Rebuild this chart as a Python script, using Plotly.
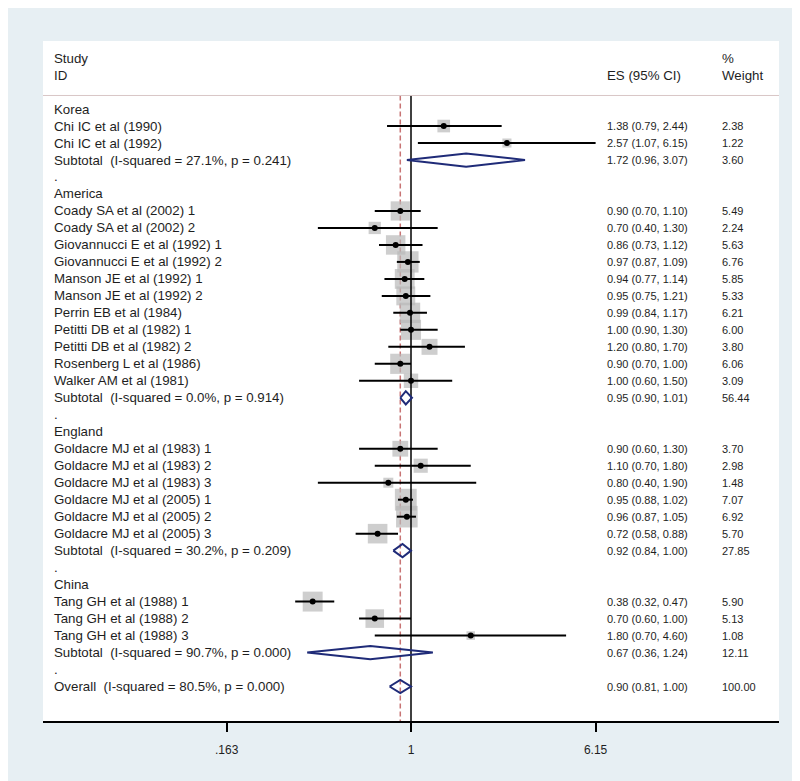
import math
import plotly.graph_objects as go

# ---------------- data ----------------
group_names = ["Korea", "America", "England", "China"]

study_labels = [
    "Chi IC et al (1990)", "Chi IC et al (1992)",
    "Coady SA et al (2002) 1", "Coady SA et al (2002) 2",
    "Giovannucci E et al (1992) 1", "Giovannucci E et al (1992) 2",
    "Manson JE et al (1992) 1", "Manson JE et al (1992) 2",
    "Perrin EB et al (1984)", "Petitti DB et al (1982) 1",
    "Petitti DB et al (1982) 2", "Rosenberg L et al (1986)",
    "Walker AM et al (1981)",
    "Goldacre MJ et al (1983) 1", "Goldacre MJ et al (1983) 2",
    "Goldacre MJ et al (1983) 3", "Goldacre MJ et al (2005) 1",
    "Goldacre MJ et al (2005) 2", "Goldacre MJ et al (2005) 3",
    "Tang GH et al (1988) 1", "Tang GH et al (1988) 2", "Tang GH et al (1988) 3",
]
study_group = [0, 0,
               1, 1, 1, 1, 1, 1, 1, 1, 1, 1, 1,
               2, 2, 2, 2, 2, 2,
               3, 3, 3]
study_es = [1.38, 2.57,
            0.90, 0.70, 0.86, 0.97, 0.94, 0.95, 0.99, 1.00, 1.20, 0.90, 1.00,
            0.90, 1.10, 0.80, 0.95, 0.96, 0.72,
            0.38, 0.70, 1.80]
study_lo = [0.79, 1.07,
            0.70, 0.40, 0.73, 0.87, 0.77, 0.75, 0.84, 0.90, 0.80, 0.70, 0.60,
            0.60, 0.70, 0.40, 0.88, 0.87, 0.58,
            0.32, 0.60, 0.70]
study_hi = [2.44, 6.15,
            1.10, 1.30, 1.12, 1.09, 1.14, 1.21, 1.17, 1.30, 1.70, 1.00, 1.50,
            1.30, 1.80, 1.90, 1.02, 1.05, 0.88,
            0.47, 1.00, 4.60]
study_wt = [2.38, 1.22,
            5.49, 2.24, 5.63, 6.76, 5.85, 5.33, 6.21, 6.00, 3.80, 6.06, 3.09,
            3.70, 2.98, 1.48, 7.07, 6.92, 5.70,
            5.90, 5.13, 1.08]

sub_es = [1.72, 0.95, 0.92, 0.67]
sub_lo = [0.96, 0.90, 0.84, 0.36]
sub_hi = [3.07, 1.01, 1.00, 1.24]
sub_wt = [3.60, 56.44, 27.85, 12.11]
sub_i2 = [27.1, 0.0, 30.2, 90.7]
sub_p = [0.241, 0.914, 0.209, 0.000]

overall_es = 0.90
overall_lo = 0.81
overall_hi = 1.00
overall_wt = 100.00
overall_i2 = 80.5
overall_p = 0.000

x_tick_vals = [0.163, 1, 6.15]
x_tick_text = [".163", "1", "6.15"]

# ---------------- layout of rows ----------------
rows = []  # (kind, label, es, lo, hi, wt)
for g, gname in enumerate(group_names):
    rows.append(("head", gname, None, None, None, None))
    for i in range(len(study_labels)):
        if study_group[i] == g:
            rows.append(("study", study_labels[i], study_es[i], study_lo[i], study_hi[i], study_wt[i]))
    rows.append(("sub", "Subtotal\u00a0 (I-squared = %.1f%%, p = %.3f)" % (sub_i2[g], sub_p[g]),
                 sub_es[g], sub_lo[g], sub_hi[g], sub_wt[g]))
    rows.append(("dot", ".", None, None, None, None))
rows.append(("sub", "Overall\u00a0 (I-squared = %.1f%%, p = %.3f)" % (overall_i2, overall_p),
             overall_es, overall_lo, overall_hi, overall_wt))

TXT = "#1e1e1e"
FONT = "Liberation Sans, Arial, sans-serif"
LBL_X = 0.0125
ES_X = 0.7635
WT_X = 0.9195

fig = go.Figure()

# reference line at overall estimate (dashed)
fig.add_trace(go.Scatter(x=[overall_es, overall_es], y=[-0.8, 36.1], mode="lines",
                         line=dict(color="#c87474", width=1.5, dash="5px,3px"),
                         hoverinfo="skip", showlegend=False))

# squares and CIs
sq_x, sq_y, sq_s = [], [], []
ci_x, ci_y = [], []
for r, row in enumerate(rows):
    kind, label, es, lo, hi, wt = row
    if kind == "study":
        sq_x.append(es); sq_y.append(r); sq_s.append(8.2 * math.sqrt(wt))
        ci_x += [lo, hi, None]; ci_y += [r, r, None]

fig.add_trace(go.Scatter(x=sq_x, y=sq_y, mode="markers",
                         marker=dict(symbol="square", size=sq_s, color="#b9b9b9",
                                     line=dict(width=0)),
                         hoverinfo="skip", showlegend=False))
fig.add_trace(go.Scatter(x=[1, 1], y=[-0.8, 36.1], mode="lines",
                         line=dict(color="black", width=1.5),
                         hoverinfo="skip", showlegend=False))
fig.add_trace(go.Scatter(x=ci_x, y=ci_y, mode="lines",
                         line=dict(color="black", width=2),
                         hoverinfo="skip", showlegend=False))
fig.add_trace(go.Scatter(x=sq_x, y=sq_y, mode="markers",
                         marker=dict(symbol="circle", size=6, color="black"),
                         hoverinfo="skip", showlegend=False))

# diamonds
H = 0.39
for r, row in enumerate(rows):
    kind, label, es, lo, hi, wt = row
    if kind == "sub":
        fig.add_trace(go.Scatter(x=[lo, es, hi, es, lo], y=[r, r - H, r, r + H, r],
                                 mode="lines", line=dict(color="#1f2b78", width=2),
                                 hoverinfo="skip", showlegend=False))

# text
ann = []
def add_text(x, y, text, size):
    ann.append(dict(x=x, y=y, xref="paper", yref="y", text=text, showarrow=False,
                    xanchor="left", yanchor="middle",
                    font=dict(family=FONT, size=size, color=TXT)))

add_text(LBL_X, -3, "Study", 13.3)
add_text(LBL_X, -2, "ID", 13.3)
add_text(ES_X, -2, "ES (95% CI)", 13.3)
add_text(WT_X, -3, "%", 13.3)
add_text(WT_X, -2, "Weight", 13.3)

for r, row in enumerate(rows):
    kind, label, es, lo, hi, wt = row
    add_text(LBL_X, r, label, 13.3)
    if es is not None:
        add_text(ES_X, r, "%.2f (%.2f, %.2f)" % (es, lo, hi), 11)
        add_text(WT_X, r, "%.2f" % wt, 11)

fig.update_layout(
    width=800, height=781, autosize=False,
    margin=dict(l=35, r=29, t=33, b=68, pad=0),
    paper_bgcolor="#e7eff3", plot_bgcolor="white",
    annotations=ann,
    shapes=[dict(type="line", xref="paper", x0=0, x1=1, yref="y", y0=-0.8, y1=-0.8,
                 line=dict(color="#d8c6c6", width=1))],
    font=dict(family=FONT, color=TXT),
)
fig.update_xaxes(type="log", range=[-1.5725, 1.5725], tickvals=x_tick_vals,
                 ticktext=x_tick_text, ticks="outside", ticklen=9, tickwidth=1.5,
                 tickcolor="black", showline=True, linewidth=2, linecolor="black",
                 showgrid=False, zeroline=False, tickfont=dict(size=12, color=TXT),
                 ticklabelstandoff=8, fixedrange=True)
fig.update_yaxes(range=[36.03, -4.007], visible=False, showgrid=False, zeroline=False,
                 fixedrange=True)

fig.write_html("out.html")
